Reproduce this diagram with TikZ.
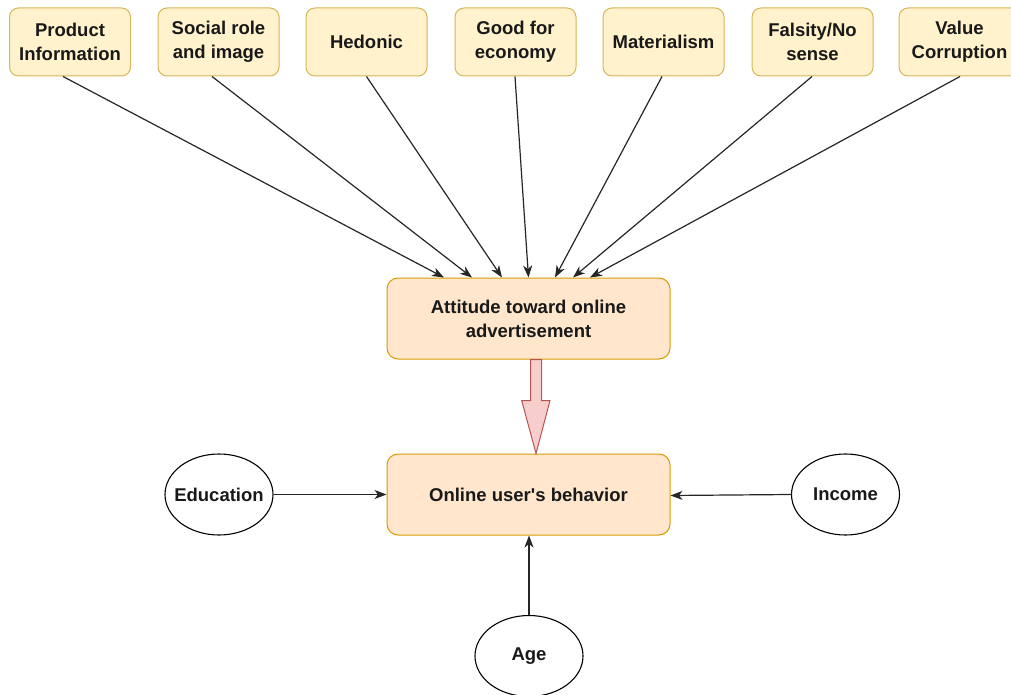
\documentclass[tikz,border=0pt]{standalone}
\usepackage{fontspec}
\setmainfont{Liberation Sans}[Ligatures=NoCommon]
\usetikzlibrary{arrows.meta,shapes.geometric}
\definecolor{yfill}{HTML}{FFF2CC}
\definecolor{ydraw}{HTML}{D6B656}
\definecolor{ofill}{HTML}{FFE6CC}
\definecolor{odraw}{HTML}{D79B00}
\definecolor{rfill}{HTML}{F8CECC}
\definecolor{rdraw}{HTML}{B85450}
\tikzset{
  x=1pt,y=-1pt,
  txt/.style={font=\bfseries\fontsize{18.5}{24}\selectfont,align=center,text=black!90},
  topbox/.style={txt,draw=ydraw,fill=yfill,line width=1pt,rounded corners=9pt,minimum width=121pt,minimum height=68pt,inner sep=0pt},
  midbox/.style={txt,draw=odraw,fill=ofill,line width=1pt,rounded corners=11pt,minimum width=283pt,minimum height=81pt,inner sep=0pt},
  oval/.style={txt,draw=black,line width=1.1pt,ellipse,minimum width=108pt,minimum height=81pt,inner sep=0pt},
  arr/.style={line width=1.2pt,draw=black!85,-{Stealth[length=12pt,width=9pt,inset=3.5pt]}}
}
\begin{document}
\begin{tikzpicture}
\useasboundingbox (0,0) rectangle (1011,695);
\node[topbox] (p1) at (70,42) {Product\\Information};
\node[topbox] (p2) at (218.5,42) {Social role\\and image};
\node[topbox] (p3) at (366.5,42) {Hedonic};
\node[topbox] (p4) at (515.5,42) {Good for\\economy};
\node[topbox] (p5) at (663.5,42) {Materialism};
\node[topbox] (p6) at (812.5,42) {Falsity/No\\sense};
\node[topbox] (p7) at (959.5,42) {Value\\Corruption};
\node[midbox] (att) at (528.5,318.5) {Attitude toward online\\advertisement};
\node[midbox] (beh) at (528.5,494.5) {Online user\textquotesingle s behavior};
\node[oval] (edu) at (219,494.5) {\makebox[0pt]{Education}};
\node[oval] (inc) at (845.5,494.5) {\makebox[0pt]{Income}};
\node[oval] (age) at (529,656) {\makebox[0pt]{Age}};
\draw[arr] ([xshift=-7pt]p1.south) -- ([xshift=-84.5pt]att.north);
\draw[arr] ([xshift=-6.5pt]p2.south) -- ([xshift=-56.5pt]att.north);
\draw[arr] ([xshift=0pt]p3.south) -- ([xshift=-26.5pt]att.north);
\draw[arr] ([xshift=-0.5pt]p4.south) -- ([xshift=0pt]att.north);
\draw[arr] ([xshift=-1.5pt]p5.south) -- ([xshift=26.5pt]att.north);
\draw[arr] ([xshift=-0.5pt]p6.south) -- ([xshift=44.5pt]att.north);
\draw[arr] ([xshift=0.5pt]p7.south) -- ([xshift=61.5pt]att.north);
\draw[rdraw,fill=rfill,line width=1pt,line join=miter]
  ([xshift=2.2pt]att.south) -- ([xshift=2.2pt,yshift=-41pt]att.south)
  -- ([xshift=-6.8pt,yshift=-41pt]att.south) -- ([xshift=7.5pt]beh.north)
  -- ([xshift=21.5pt,yshift=-41pt]att.south) -- ([xshift=13.2pt,yshift=-41pt]att.south)
  -- ([xshift=13.2pt]att.south) -- cycle;
\draw[arr] (edu.east) -- (beh.west);
\draw[arr] (inc.west) -- ([yshift=-1pt]beh.east);
\draw[arr] (age.north) -- ([xshift=0.5pt]beh.south);
\end{tikzpicture}
\end{document}
